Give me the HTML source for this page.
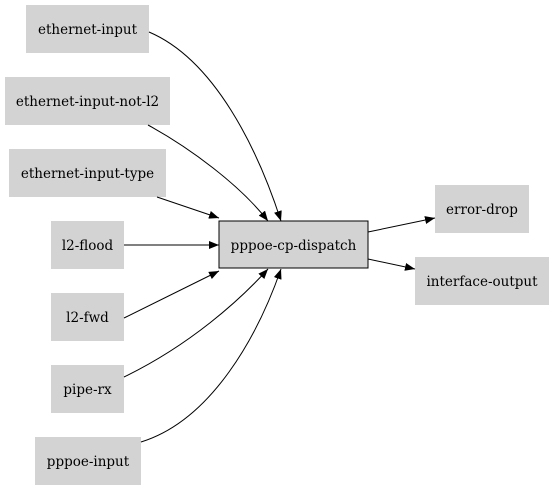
<!DOCTYPE html>
<html><head><style>html,body{margin:0;padding:0;background:#fff;}svg{display:block}</style></head>
<body>
<svg width="553" height="491" viewBox="0 0 553 491" xmlns="http://www.w3.org/2000/svg" font-family="'DejaVu Serif',serif" font-size="13.5">
<defs><marker id="a" markerWidth="10" markerHeight="8" refX="10" refY="4" orient="auto" markerUnits="userSpaceOnUse"><path d="M0,0 L10,4 L0,8 z" fill="#000"/></marker></defs>
<g fill="#d3d3d3">
<rect x="26" y="5" width="123" height="48"/>
<rect x="5" y="77" width="165" height="48"/>
<rect x="9" y="149" width="157" height="48"/>
<rect x="51" y="221" width="73" height="48"/>
<rect x="51" y="293" width="73" height="48"/>
<rect x="51" y="365" width="73" height="48"/>
<rect x="35" y="437" width="106" height="48"/>
<rect x="435" y="185" width="94" height="48"/>
<rect x="415" y="257" width="134" height="48"/>
<rect x="219" y="221" width="149" height="47" stroke="#000" stroke-width="1"/>
</g>
<g text-anchor="middle" fill="#000">
<text x="87.5" y="34">ethernet-input</text>
<text x="87.5" y="106">ethernet-input-not-l2</text>
<text x="87.5" y="178">ethernet-input-type</text>
<text x="87.5" y="250">l2-flood</text>
<text x="87.5" y="322">l2-fwd</text>
<text x="87.5" y="394">pipe-rx</text>
<text x="88" y="466">pppoe-input</text>
<text x="482" y="214">error-drop</text>
<text x="482" y="286">interface-output</text>
<text x="293.5" y="250">pppoe-cp-dispatch</text>
</g>
<g fill="none" stroke="#000" stroke-width="1" marker-end="url(#a)">
<path d="M149,32 C215,60 258,150 281,221"/>
<path d="M148,125 C190,148 240,185 268,221"/>
<path d="M157,197 L219,218"/>
<path d="M124,245 L219,245"/>
<path d="M124,318 L219,271"/>
<path d="M124,377 C190,345 240,300 268,269"/>
<path d="M141,442 C212,420 258,335 281,269"/>
<path d="M368,232 L435,218"/>
<path d="M368,259 L415,269"/>
</g>
</svg>
</body></html>
